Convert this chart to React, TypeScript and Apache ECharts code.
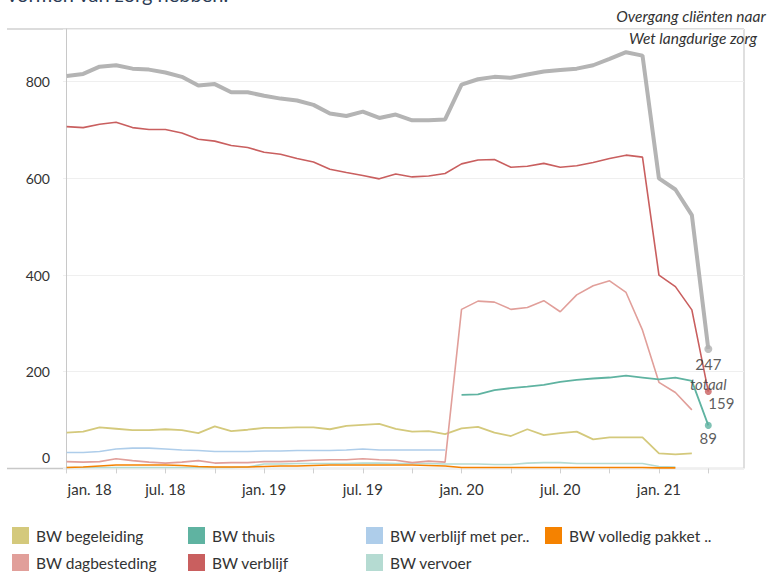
import React, { useEffect, useRef } from "react";
import * as echarts from "echarts";

// Months Jan 2018 .. Apr 2021 (index = position on x axis)
const months = [
  "2018-01","2018-02","2018-03","2018-04","2018-05","2018-06","2018-07","2018-08","2018-09","2018-10","2018-11","2018-12",
  "2019-01","2019-02","2019-03","2019-04","2019-05","2019-06","2019-07","2019-08","2019-09","2019-10","2019-11","2019-12",
  "2020-01","2020-02","2020-03","2020-04","2020-05","2020-06","2020-07","2020-08","2020-09","2020-10","2020-11","2020-12",
  "2021-01","2021-02","2021-03","2021-04",
];
const xTickLabels = ["jan. 18", "jul. 18", "jan. 19", "jul. 19", "jan. 20", "jul. 20", "jan. 21"];
const xTickMonths = [0, 6, 12, 18, 24, 30, 36];
const xMinorTickMonths = [0, 3, 6, 9, 12, 15, 18, 21, 24, 27, 30, 33, 36, 39];
const yTicks = [0, 200, 400, 600, 800];

const totaal = [812, 816, 831, 834, 827, 825, 819, 810, 792, 795, 778, 778, 771, 765, 761, 752, 734, 729, 738, 725, 732, 720, 720, 722, 794, 805, 810, 808, 815, 821, 824, 827, 834, 847, 861, 854, 600, 577, 524, 247];
const verblijf = [707, 705, 712, 716, 705, 701, 701, 694, 681, 677, 668, 664, 654, 650, 641, 634, 619, 612, 606, 599, 609, 603, 605, 610, 630, 638, 639, 623, 625, 631, 623, 626, 633, 641, 648, 644, 400, 376, 328, 159];
const dagbesteding = [14, 13, 14, 20, 16, 13, 11, 13, 16, 11, 12, 12, 14, 14, 15, 17, 18, 18, 20, 18, 17, 12, 15, 13, 329, 346, 344, 329, 333, 347, 324, 359, 378, 388, 364, 286, 178, 157, 121, null];
const begeleiding = [74, 76, 85, 82, 79, 79, 81, 79, 73, 87, 77, 80, 84, 84, 85, 85, 81, 88, 90, 92, 82, 76, 77, 71, 83, 86, 74, 67, 81, 69, 73, 76, 60, 64, 64, 64, 31, 29, 31, null];
const thuis = [null, null, null, null, null, null, null, null, null, null, null, null, null, null, null, null, null, null, null, null, null, null, null, null, 152, 153, 162, 166, 169, 173, 179, 183, 186, 188, 192, 188, 184, 188, 181, 89];
const verblijfMetPer = [33, 33, 35, 40, 42, 42, 40, 38, 37, 35, 35, 35, 36, 36, 37, 37, 37, 38, 40, 38, 38, 38, 38, 38, null, null, null, null, null, null, null, null, null, null, null, null, null, null, null, null];
const volledigPakket = [2, 3, 5, 7, 7, 7, 7, 6, 4, 3, 3, 3, 4, 5, 5, 6, 7, 7, 7, 7, 7, 7, 6, 5, 2, 2, 2, 2, 2, 2, 2, 2, 2, 2, 2, 2, 1, 1, null, null];
const vervoer = [2, 2, 2, 2, 2, 2, 2, 2, 2, 2, 2, 3, 9, 9, 10, 10, 10, 10, 11, 11, 10, 10, 10, 9, 9, 9, 8, 8, 11, 12, 12, 10, 10, 10, 10, 10, 4, 3, null, null];

const FONT = 'Lato, "Open Sans", sans-serif';
const TXT = "#333333";

const toPts = (arr: (number | null)[]) =>
  arr.map((v, i) => (v === null ? null : [i, v])).filter((p) => p !== null);

const lastPt = (arr: (number | null)[]) => {
  let i = arr.length - 1;
  while (i >= 0 && arr[i] === null) i--;
  return [i, arr[i] as number];
};

export default function App() {
  const ref = useRef<HTMLDivElement>(null);
  useEffect(() => {
    if (!ref.current) return;
    const chart = echarts.init(ref.current, null, { renderer: "svg" });

    const line = (name: string, data: (number | null)[], color: string, width = 1.6, z = 2) => ({
      name,
      type: "line",
      data: toPts(data),
      showSymbol: false,
      symbol: "none",
      lineStyle: { color, width },
      itemStyle: { color },
      z,
      silent: true,
    });

    const endTot = lastPt(totaal);
    const endVer = lastPt(verblijf);
    const endThu = lastPt(thuis);

    const legendBase = {
      orient: "vertical",
      itemWidth: 17,
      itemHeight: 17,
      itemGap: 10,
      icon: "rect",
      padding: 0,
      top: 527,
      selectedMode: false,
      textStyle: { fontFamily: FONT, fontSize: 15.5, color: TXT, padding: [0, 0, 0, 2] },
    };

    chart.setOption({
      animation: false,
      grid: { left: 63, right: 31, top: 29, bottom: 104.6 },
      legend: [
        { ...legendBase, left: 12, data: ["BW begeleiding", "BW dagbesteding"] },
        { ...legendBase, left: 188, data: ["BW thuis", "BW verblijf"] },
        { ...legendBase, left: 366, data: ["BW verblijf met per..", "BW vervoer"] },
        { ...legendBase, left: 545, data: ["BW volledig pakket .."] },
      ],
      xAxis: {
        type: "value",
        min: -0.225,
        max: 41.17,
        axisLine: { show: false },
        splitLine: { show: false },
        axisTick: {
          show: true,
          customValues: xMinorTickMonths,
          length: 5,
          lineStyle: { color: "#d0d0d0" },
        },
        axisLabel: {
          customValues: xTickMonths,
          formatter: (v: number) => {
            const k = xTickMonths.indexOf(Math.round(v));
            if (k < 0) return "";
            return k === 0 ? `{f|${xTickLabels[k]}}` : xTickLabels[k];
          },
          rich: { f: { fontFamily: FONT, fontSize: 15, color: TXT, padding: [0, 0, 0, 46] } },
          margin: 13,
          fontFamily: FONT,
          fontSize: 15,
          color: TXT,
        },
      },
      yAxis: {
        type: "value",
        min: 0,
        max: 909,
        interval: 200,
        axisLine: { show: true, lineStyle: { color: "#c8c8c8", width: 1 } },
        axisTick: { show: false },
        splitLine: { show: true, lineStyle: { color: "#efefef", width: 1 } },
        axisLabel: {
          showMaxLabel: false,
          margin: 13,
          fontFamily: FONT,
          fontSize: 14,
          color: TXT,
          formatter: (v: number) => (yTicks.indexOf(v) < 0 ? "" : v === 0 ? "{z|0}" : String(v)),
          rich: { z: { fontFamily: FONT, fontSize: 14, color: TXT, padding: [0, 0, 22, 0] } },
        },
      },
      series: [
        line("BW vervoer", vervoer, "#b5dbd2", 1.6, 2),
        line("BW volledig pakket ..", volledigPakket, "#f58200", 1.6, 3),
        line("BW verblijf met per..", verblijfMetPer, "#aecdea", 1.6, 3),
        line("BW begeleiding", begeleiding, "#d4c97c", 1.8, 3),
        line("BW dagbesteding", dagbesteding, "#e19f9a", 1.6, 3),
        line("BW thuis", thuis, "#5fb3a1", 1.8, 4),
        line("BW verblijf", verblijf, "#c95f5f", 1.6, 4),
        line("totaal", totaal, "#b4b4b4", 4, 5),
        {
          name: "end-totaal",
          type: "scatter",
          silent: true,
          z: 6,
          symbolSize: 8,
          itemStyle: { color: "#b0b0b0" },
          data: [endTot],
          label: {
            show: true,
            position: "bottom",
            distance: 1,
            formatter: (p: any) => `{a|${p.value[1]}}\n{b|totaal}`,
            rich: {
              a: { fontFamily: FONT, fontSize: 15, color: TXT, lineHeight: 19, align: "center" },
              b: { fontFamily: FONT, fontSize: 15, color: TXT, fontStyle: "italic", lineHeight: 21, align: "center" },
            },
          },
        },
        {
          name: "end-verblijf",
          type: "scatter",
          silent: true,
          z: 6,
          symbolSize: 7,
          itemStyle: { color: "#c95f5f" },
          data: [endVer],
          label: {
            show: true,
            position: "bottom",
            distance: 1,
            offset: [13, -1],
            formatter: (p: any) => String(p.value[1]),
            fontFamily: FONT,
            fontSize: 15,
            color: TXT,
          },
        },
        {
          name: "end-thuis",
          type: "scatter",
          silent: true,
          z: 6,
          symbolSize: 7,
          itemStyle: { color: "#5fb3a1" },
          data: [endThu],
          label: {
            show: true,
            position: "bottom",
            distance: 2,
            formatter: (p: any) => String(p.value[1]),
            fontFamily: FONT,
            fontSize: 15,
            color: TXT,
          },
        },
      ],
      graphic: [
        { type: "line", shape: { x1: 7, y1: 29, x2: 744, y2: 29 }, style: { stroke: "#dcdcdc", lineWidth: 2 }, silent: true },
        { type: "line", shape: { x1: 7, y1: 468.5, x2: 744, y2: 468.5 }, style: { stroke: "#c8c8c8", lineWidth: 1.5 }, silent: true },
        { type: "line", shape: { x1: 744, y1: 29, x2: 744, y2: 468.5 }, style: { stroke: "#d4d4d4", lineWidth: 1.5 }, silent: true },
        {
          type: "text",
          left: 7,
          top: -16,
          style: { text: "vormen van zorg hebben.", fontFamily: FONT, fontSize: 20, fill: "#2a3b55" },
          silent: true,
        },
        {
          type: "text",
          x: 691,
          y: 16,
          style: {
            text: "Overgang cliënten naar",
            fontFamily: FONT,
            fontSize: 15.5,
            fontStyle: "italic",
            fill: TXT,
            textAlign: "center",
            textVerticalAlign: "middle",
          },
          silent: true,
        },
        {
          type: "text",
          x: 693,
          y: 38,
          style: {
            text: "Wet langdurige zorg",
            fontFamily: FONT,
            fontSize: 15.5,
            fontStyle: "italic",
            fill: TXT,
            textAlign: "center",
            textVerticalAlign: "middle",
          },
          silent: true,
        },
      ],
    });
    return () => chart.dispose();
  }, []);
  return <div ref={ref} style={{ width: 775, height: 573, position: "absolute", left: 0, top: 0 }} />;
}
